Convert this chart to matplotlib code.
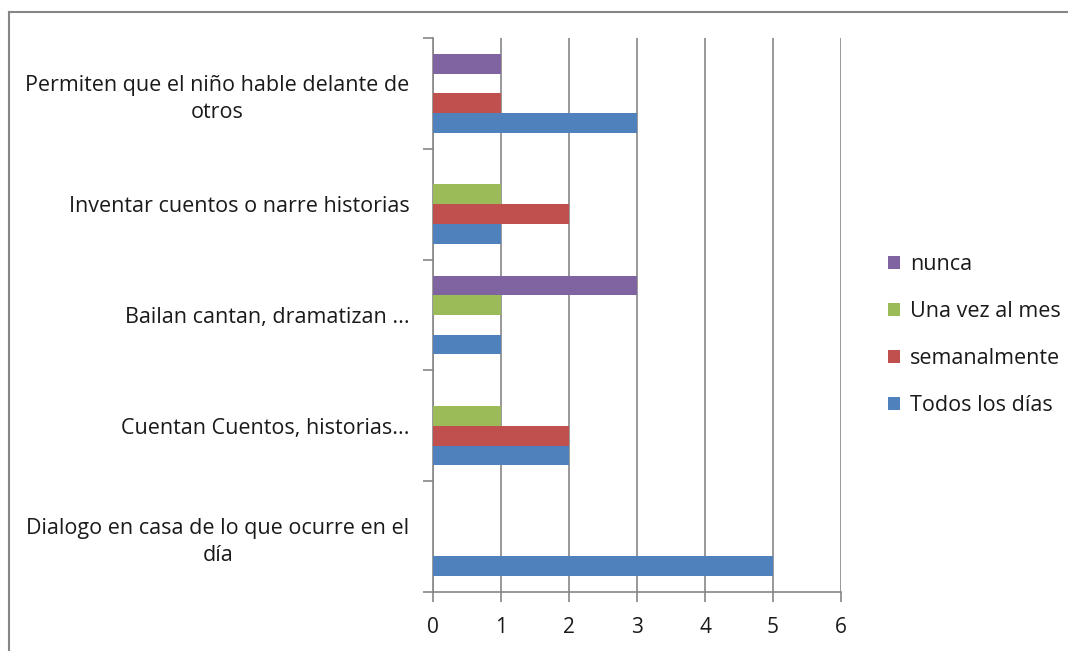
import numpy as np
import matplotlib
matplotlib.use('Agg')
import matplotlib.pyplot as plt
from matplotlib.lines import Line2D

plt.rcParams['font.family'] = ['Open Sans', 'DejaVu Sans']

categories = ['Dialogo en casa de lo que ocurre en el\ndía',
              'Cuentan Cuentos, historias...',
              'Bailan cantan, dramatizan ...',
              'Inventar cuentos o narre historias',
              'Permiten que el niño hable delante de\notros']
series_names = ['Todos los días', 'semanalmente', 'Una vez al mes', 'nunca']
todos = [5, 2, 1, 1, 3]
semanal = [0, 2, 0, 2, 1]
una_vez = [0, 1, 1, 1, 0]
nunca = [0, 0, 3, 0, 1]
colors = ['#4F81BD', '#C0504D', '#9BBB59', '#8064A2']

fig = plt.figure(figsize=(10.68, 6.51), dpi=100)
ax = fig.add_axes([433/1068, 1 - 592/651, (841-433)/1068, (592-38)/651])

y = np.arange(len(categories))
h = 0.178
bars = []
for i, vals in enumerate([todos, semanal, una_vez, nunca]):
    b = ax.barh(y + (i - 1.5) * h, vals, height=h, color=colors[i],
                label=series_names[i], zorder=3)
    bars.append(b)

ax.set_xlim(0, 6)
ax.set_ylim(-0.5, 4.5)
ax.set_xticks(range(7))
ax.grid(axis='x', color='#868686', linewidth=1.2, zorder=0)
ax.set_yticks(y)
ax.set_yticklabels(categories, fontsize=15.5, multialignment='center',
                   linespacing=1.35, color='#1a1a1a')
ax.set_yticks(np.arange(-0.5, 5, 1), minor=True)
ax.tick_params(axis='y', which='major', length=0, pad=17)
ax.tick_params(axis='y', which='minor', length=7, color='#868686', width=1.2)
ax.tick_params(axis='x', length=7, color='#868686', width=1.2, labelsize=15,
               pad=11, labelcolor='#1a1a1a')
for s in ['top', 'right']:
    ax.spines[s].set_visible(False)
for s in ['left', 'bottom']:
    ax.spines[s].set_color('#868686')
    ax.spines[s].set_linewidth(1.2)

handles = bars[::-1]
leg = fig.legend(handles, series_names[::-1], loc='center left',
                 bbox_to_anchor=(869/1068, 1 - 335/651), frameon=False,
                 fontsize=15.5, handlelength=0.55, handleheight=0.55,
                 labelspacing=1.2, handletextpad=0.45)
for t in leg.get_texts():
    t.set_color('#1a1a1a')

# chart border
fig.add_artist(Line2D([9/1068, 9/1068], [0, 1 - 12/651], transform=fig.transFigure,
                      color='#868686', linewidth=1.5))
fig.add_artist(Line2D([9/1068, 1], [1 - 12/651, 1 - 12/651], transform=fig.transFigure,
                      color='#868686', linewidth=1.5))

fig.savefig('out.png', dpi=100)
